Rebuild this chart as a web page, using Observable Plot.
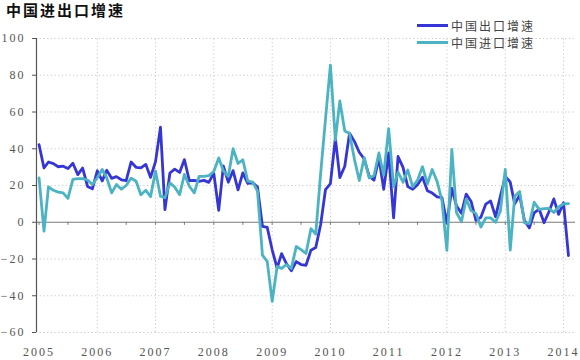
<!DOCTYPE html>
<html><head><meta charset="utf-8">
<script src="https://cdn.jsdelivr.net/npm/d3@7"></script>
<script src="https://cdn.jsdelivr.net/npm/@observablehq/plot@0.6"></script>
<style>
body{margin:0;background:#fff;width:580px;height:360px;overflow:hidden;position:relative;font-family:"Noto Sans CJK SC",sans-serif}
#title{height:20px;line-height:20px;padding-left:6px;font-size:15px;font-weight:bold;letter-spacing:2px;color:#111}
#legend{position:absolute;left:417px;top:17px;font-size:12px;color:#444;letter-spacing:2px}
.row{display:flex;align-items:center;height:17px}
.sw{width:31px;height:3px;margin-right:3px}
</style></head>
<body>
<div id="title">中国进出口增速</div>
<div id="legend"></div>
<div id="chart"></div>
<script>
// monthly YoY growth (%), Jan 2005 – Feb 2014
const startYear = 2005;
const seriesNames = ["中国出口增速", "中国进口增速"];
const seriesColors = ["#3636d4", "#4cb3c2"];
const exportGrowth = [
  42.2, 29.5, 32.8, 31.9, 30.2, 30.5, 29.2, 32.1, 25.9, 29.5, 19.5, 18.2,
  28.0, 22.5, 28.3, 23.9, 24.8, 23.1, 22.6, 32.8, 29.9, 29.6, 31.5, 24.4,
  33.0, 51.7, 6.9, 26.8, 28.9, 27.1, 34.1, 22.6, 22.8, 22.3, 22.8, 21.7,
  26.7, 6.5, 30.6, 21.8, 28.1, 17.6, 26.9, 21.1, 21.5, 19.2, -2.2, -2.8,
  -15.0, -25.0, -17.1, -22.6, -26.4, -21.4, -23.0, -23.4, -15.2, -13.8, -1.2, 17.7,
  21.0, 45.7, 24.3, 30.5, 48.5, 43.9, 38.1, 34.4, 25.1, 22.9, 34.9, 17.9,
  37.7, 2.4, 35.8, 29.9, 19.4, 17.9, 20.4, 24.5, 17.1, 15.9, 13.8, 13.4,
  -0.5, 18.4, 8.9, 4.9, 15.3, 11.3, 1.0, 2.7, 9.9, 11.6, 2.9, 14.1,
  25.0, 21.8, 10.0, 14.7, 1.0, -3.1, 5.1, 7.2, -0.3, 5.6, 12.7, 4.3,
  10.6, -18.1
];
const importGrowth = [
  24.2, -4.8, 19.3, 17.4, 16.4, 16.0, 13.0, 23.3, 23.7, 23.7, 23.0, 20.5,
  24.2, 28.7, 24.2, 16.0, 20.5, 18.0, 20.0, 24.0, 22.3, 15.0, 17.4, 14.0,
  27.8, 14.2, 13.3, 21.4, 19.2, 15.0, 26.0, 19.6, 16.0, 25.0, 25.0, 25.4,
  27.6, 35.0, 28.0, 25.0, 40.0, 32.0, 34.0, 22.4, 21.8, 17.0, -17.9, -21.3,
  -43.1, -24.1, -25.1, -23.0, -25.2, -13.2, -14.9, -17.0, -3.5, -6.4, 26.7, 55.9,
  85.5, 44.7, 66.0, 49.7, 48.3, 34.1, 22.7, 35.2, 24.1, 25.3, 37.7, 25.6,
  51.0, 19.4, 27.3, 21.8, 28.4, 19.3, 22.9, 30.2, 20.9, 28.7, 22.1, 11.8,
  -15.3, 39.6, 5.3, 0.3, 12.7, 6.3, 4.7, -2.6, 2.4, 2.4, 0.0, 6.0,
  28.8, -15.2, 14.1, 16.8, -0.3, -0.7, 10.9, 7.0, 7.4, 7.6, 5.3, 8.3,
  10.0, 10.1
];
const yTicks = [-60, -40, -20, 0, 20, 40, 60, 80, 100];
const yearTicks = [2005, 2006, 2007, 2008, 2009, 2010, 2011, 2012, 2013, 2014];

const toDate = i => new Date(Date.UTC(startYear, i, 1));
const expData = exportGrowth.map((v, i) => ({date: toDate(i), value: v}));
const impData = importGrowth.map((v, i) => ({date: toDate(i), value: v}));
const yearDates = yearTicks.map(y => new Date(Date.UTC(y, 0, 1)));
const halfYearDates = d3.utcMonth.every(6).range(new Date(Date.UTC(2005,0,1)), new Date(Date.UTC(2014,1,1)));
const xStart = new Date(Date.UTC(2004, 11, 16));
const xEnd = new Date(Date.UTC(2014, 2, 17));

const grid = {stroke: "#c8c8c8", strokeDasharray: "1.2,2.5", strokeWidth: 1};

const chart = Plot.plot({
  width: 580,
  height: 340,
  marginLeft: 36,
  marginRight: 5,
  marginTop: 18,
  marginBottom: 28,
  style: {fontFamily: "'Liberation Serif', serif", fontSize: "12px", color: "#555", background: "#fff", letterSpacing: "2px"},
  x: {type: "utc", domain: [xStart, xEnd], ticks: yearDates, tickFormat: d3.utcFormat("%Y"), tickSize: 0, tickPadding: 15, label: null},
  y: {domain: [-60, 100], ticks: yTicks, tickSize: 4, tickPadding: 7, label: null, line: true},
  marks: [
    Plot.ruleY(yTicks.filter(d => d !== 0), grid),
    Plot.ruleX(yearDates.slice(1), {...grid, y1: -60, y2: 100}),
    Plot.ruleY([0], {stroke: "#7a7a7a", strokeWidth: 1.2}),
    Plot.ruleX(halfYearDates, {y1: 0, y2: -1.7, stroke: "#7a7a7a", strokeWidth: 1}),
    Plot.ruleX([xStart], {y1: -60, y2: 100, stroke: "#555", strokeWidth: 1.2}),
    Plot.line(expData, {x: "date", y: "value", stroke: seriesColors[0], strokeWidth: 2.8, strokeLinejoin: "round"}),
    Plot.line(impData, {x: "date", y: "value", stroke: seriesColors[1], strokeWidth: 2.8, strokeLinejoin: "round"})
  ]
});
document.getElementById("chart").appendChild(chart);

const legend = document.getElementById("legend");
seriesNames.forEach((n, i) => {
  const row = document.createElement("div");
  row.className = "row";
  row.innerHTML = `<div class="sw" style="background:${seriesColors[i]}"></div><span>${n}</span>`;
  legend.appendChild(row);
});
</script>
</body></html>
